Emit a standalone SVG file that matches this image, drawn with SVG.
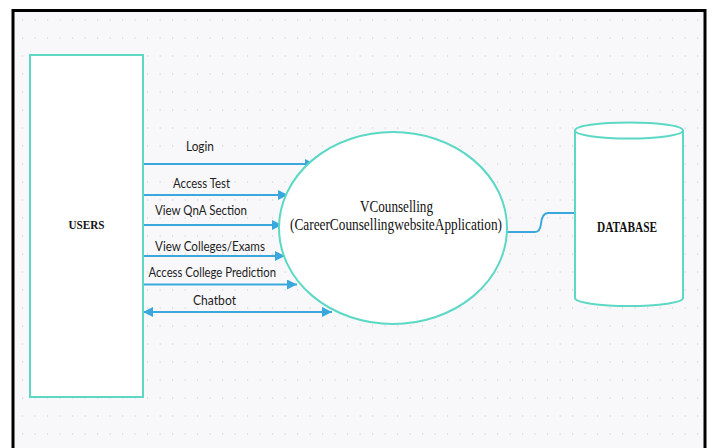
<svg xmlns="http://www.w3.org/2000/svg" width="713" height="448" viewBox="0 0 713 448">
<defs>
<pattern id="dots" x="0" y="0" width="12.5" height="18" patternUnits="userSpaceOnUse">
<rect x="9.7" y="1" width="1" height="2" fill="#dcdce2"/>
</pattern>
<marker id="arr" viewBox="0 0 10 10" refX="10" refY="5" markerWidth="10" markerHeight="10" markerUnits="userSpaceOnUse" orient="auto-start-reverse">
<path d="M0,0 L10,5 L0,10 Z" fill="#3aa8dc"/>
</marker>
<style>
.node{fill:#ffffff;stroke:#5cd8c5;stroke-width:2}
.flow{fill:none;stroke:#3aa8dc;stroke-width:2}
.lbl{font-family:Lato,"Liberation Sans",sans-serif;font-size:13.5px;fill:#1e1e1e}
.ser{font-family:"Liberation Serif","DejaVu Serif",serif;fill:#111}
</style>
</defs>
<rect x="0" y="0" width="713" height="448" fill="#ffffff"/>
<rect x="13" y="11" width="692" height="437" fill="#f8f8fa"/>
<rect x="13" y="11" width="692" height="437" fill="url(#dots)"/>
<path d="M13,448 V10.5 H705 V448" fill="none" stroke="#000" stroke-width="3"/>

<g id="connectors">
<line class="flow" x1="143" y1="164" x2="315" y2="164" marker-end="url(#arr)"/>
<line class="flow" x1="143" y1="195" x2="288" y2="195" marker-end="url(#arr)"/>
<line class="flow" x1="143" y1="225" x2="282" y2="225" marker-end="url(#arr)"/>
<line class="flow" x1="143" y1="256" x2="285" y2="256" marker-end="url(#arr)"/>
<line class="flow" x1="143" y1="284.5" x2="297" y2="284.5" marker-end="url(#arr)"/>
<line class="flow" x1="143" y1="312" x2="332" y2="312" marker-start="url(#arr)" marker-end="url(#arr)"/>
<path class="flow" d="M507,232 H535 Q540,232 541,224 Q542,213 548,213 H575"/>
<text class="lbl" x="186" y="151" textLength="28" lengthAdjust="spacingAndGlyphs">Login</text>
<text class="lbl" x="173" y="187.5" textLength="57" lengthAdjust="spacingAndGlyphs">Access Test</text>
<text class="lbl" x="155" y="215" textLength="92" lengthAdjust="spacingAndGlyphs">View QnA Section</text>
<text class="lbl" x="155" y="250.5" textLength="110" lengthAdjust="spacingAndGlyphs">View Colleges/Exams</text>
<text class="lbl" x="148.5" y="277" textLength="127.5" lengthAdjust="spacingAndGlyphs">Access College Prediction</text>
<text class="lbl" x="193" y="305" textLength="43" lengthAdjust="spacingAndGlyphs">Chatbot</text>
</g>

<g id="users">
<rect class="node" x="30" y="55" width="113" height="342"/>
<text class="ser" x="86.5" y="229" font-size="13" font-weight="bold" text-anchor="middle" textLength="36" lengthAdjust="spacingAndGlyphs">USERS</text>
</g>

<g id="vcounselling">
<ellipse class="node" cx="393" cy="228" rx="114" ry="96"/>
<text class="ser" x="396.5" y="211.5" font-size="16" text-anchor="middle" textLength="73" lengthAdjust="spacingAndGlyphs">VCounselling</text>
<text class="ser" x="396" y="230" font-size="16" text-anchor="middle" textLength="212" lengthAdjust="spacingAndGlyphs">(CareerCounsellingwebsiteApplication)</text>
</g>

<g id="database">
<path class="node" d="M575,130.5 V298 A54,8 0 0 0 683,298 V130.5"/>
<ellipse class="node" cx="629" cy="130.5" rx="54" ry="8"/>
<text class="ser" x="627" y="231.5" font-size="14" font-weight="bold" text-anchor="middle" textLength="60" lengthAdjust="spacingAndGlyphs">DATABASE</text>
</g>
</svg>
